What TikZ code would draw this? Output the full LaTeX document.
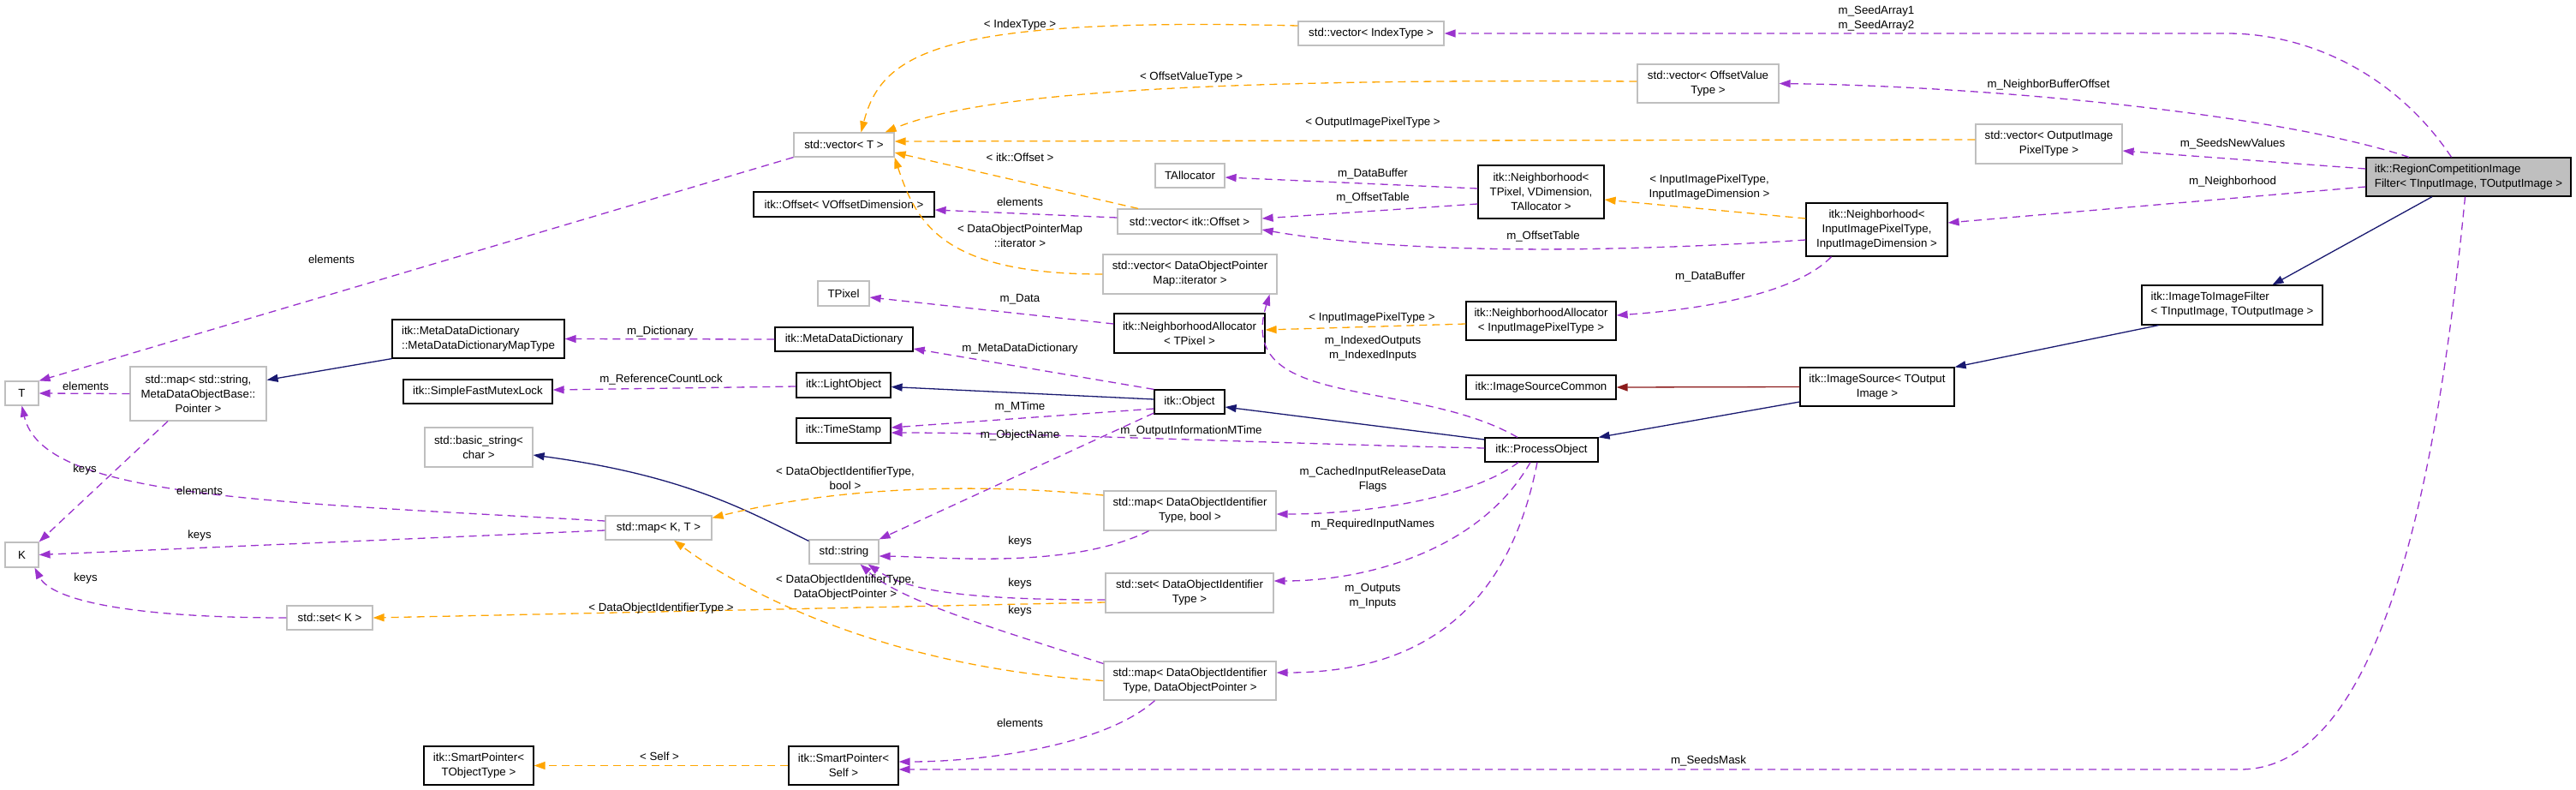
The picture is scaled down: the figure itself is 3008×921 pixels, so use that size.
\documentclass[tikz,border=0pt]{standalone}
\usepackage{fontspec}
\setmainfont{Liberation Sans}
\usetikzlibrary{arrows.meta}
\definecolor{pur}{HTML}{9A32CD}
\definecolor{org}{HTML}{FFA500}
\definecolor{nav}{HTML}{191970}
\definecolor{dred}{HTML}{8B1A1A}
\definecolor{gbd}{HTML}{BFBFBF}
\newcommand\bx[7]{\node[#6, minimum width={(#4-#2)*1pt}, minimum height={(#5-#3)*1pt}] (#1) at ({(#2+#4)/2},{(#3+#5)/2}) {#7};}
\begin{document}
\begin{tikzpicture}[x=1pt,y=-1pt,
  every node/.style={font=\fontsize{13.3}{17}\selectfont, inner sep=0pt},
  box/.style={rectangle, align=center, line width=1.2pt},
  g/.style={box, draw=gbd},
  b/.style={box, draw=black},
  lab/.style={align=center},
  tip/.style={-{Triangle[length=13pt,width=9pt]}},
  pur/.style={tip, draw=pur, fill=none, line width=1.3pt, dash pattern=on 9pt off 6pt, -{Triangle[length=13pt,width=9pt,fill=pur]}},
  org/.style={tip, draw=org, line width=1.3pt, dash pattern=on 9pt off 6pt, -{Triangle[length=13pt,width=9pt,fill=org]}},
  nav/.style={draw=nav, line width=1.3pt, -{Triangle[length=13pt,width=9pt,fill=nav]}},
  dred/.style={draw=dred, line width=1.3pt, -{Triangle[length=13pt,width=9pt,fill=dred]}}]
\useasboundingbox (0,0) rectangle (3008,921);
% nodes
\bx{T}{6}{445}{45}{473}{g}{T}
\bx{mapstr}{152}{428}{311}{491}{g}{std::map< std::string,\\ MetaDataObjectBase::\\ Pointer >}
\bx{mddmt}{458}{373}{659}{418}{b,align=left}{itk::MetaDataDictionary\\::MetaDataDictionaryMapType}
\bx{smfl}{471}{443}{645}{471}{b}{itk::SimpleFastMutexLock}
\bx{bstr}{496}{499}{622}{545}{g}{std::basic\_string<\\ char >}
\bx{K}{6}{633}{45}{662}{g}{K}
\bx{mapKT}{707}{602}{831}{630}{g}{std::map< K, T >}
\bx{setK}{335}{707}{435}{735}{g}{std::set< K >}
\bx{sptot}{495}{871}{623}{916}{b}{itk::SmartPointer<\\ TObjectType >}
\bx{vT}{927}{155}{1044}{183}{g}{std::vector< T >}
\bx{ofs}{880}{224}{1091}{253}{b}{itk::Offset< VOffsetDimension >}
\bx{tpix}{955}{328}{1015}{357}{g}{TPixel}
\bx{mdd}{905}{382}{1066}{410}{b}{itk::MetaDataDictionary}
\bx{lo}{930}{435}{1040}{464}{b}{itk::LightObject}
\bx{ts}{930}{488}{1040}{517}{b}{itk::TimeStamp}
\bx{str}{945}{630}{1026}{658}{g}{std::string}
\bx{talloc}{1349}{191}{1430}{219}{g}{TAllocator}
\bx{vof}{1305}{244}{1473}{273}{g}{std::vector< itk::Offset >}
\bx{vdop}{1288}{297}{1491}{343}{g}{std::vector< DataObjectPointer\\ Map::iterator >}
\bx{natp}{1301}{366}{1477}{412}{b}{itk::NeighborhoodAllocator\\ < TPixel >}
\bx{nbt}{1726}{193}{1873}{255}{b}{itk::Neighborhood<\\ TPixel, VDimension,\\ TAllocator >}
\bx{nain}{1712}{352}{1887}{397}{b}{itk::NeighborhoodAllocator\\ < InputImagePixelType >}
\bx{isc}{1712}{438}{1887}{466}{b}{itk::ImageSourceCommon}
\bx{vidx}{1516}{25}{1686}{53}{g}{std::vector< IndexType >}
\bx{voffv}{1912}{75}{2077}{120}{g}{std::vector< OffsetValue\\ Type >}
\bx{obj}{1348}{455}{1430}{483}{b}{itk::Object}
\bx{po}{1734}{511}{1866}{539}{b}{itk::ProcessObject}
\bx{mapdb}{1289}{573}{1490}{619}{g}{std::map< DataObjectIdentifier\\ Type, bool >}
\bx{setdo}{1291}{669}{1487}{715}{g}{std::set< DataObjectIdentifier\\ Type >}
\bx{mapdop}{1289}{772}{1490}{817}{g}{std::map< DataObjectIdentifier\\ Type, DataObjectPointer >}
\bx{spself}{921}{871}{1049}{916}{b}{itk::SmartPointer<\\ Self >}
\bx{voip}{2307}{145}{2478}{191}{g}{std::vector< OutputImage\\ PixelType >}
\bx{nbin}{2109}{237}{2274}{299}{b}{itk::Neighborhood<\\ InputImagePixelType,\\ InputImageDimension >}
\bx{reg}{2763}{184}{3002}{229}{b,fill=gbd,align=left}{itk::RegionCompetitionImage\\Filter< TInputImage, TOutputImage >}
\bx{itif}{2501}{333}{2712}{379}{b,align=left}{itk::ImageToImageFilter\\< TInputImage, TOutputImage >}
\bx{isrc}{2102}{429}{2282}{474}{b}{itk::ImageSource< TOutput\\ Image >}
% edges
\draw[pur] ([xshift=-20pt]reg.north) .. controls (2800,90) and (2700,39) .. (2600,39) -- (vidx.east);
\draw[pur] ([xshift=-69.5pt]reg.north) .. controls (2650,130) and (2300,100) .. (voffv.east);
\draw[pur] ([yshift=9.5pt]reg.west) -- ([yshift=-8pt]voip.east);
\draw[pur] ([yshift=-11.5pt]reg.west) -- ([yshift=8pt]nbin.east);
\draw[nav] ([xshift=-42.5pt]reg.south) -- ([xshift=47pt]itif.north);
\draw[pur] ([xshift=-4pt]reg.south) .. controls (2850,520) and (2790,898) .. (2616,898) -- ([yshift=-4.5pt]spself.east);
\draw[nav] ([xshift=-86pt]itif.south) -- (isrc.north east);
\draw[dred] (isrc.west) -- (isc.east);
\draw[nav] ([yshift=-17.5pt]isrc.west) -- (po.north east);
\draw[nav] ([yshift=12pt]po.west) -- ([yshift=-6pt]obj.east);
\draw[nav] ([yshift=3pt]obj.west) -- ([yshift=-2pt]lo.east);
\draw[pur] ([yshift=-1.5pt]lo.west) -- ([yshift=2pt]smfl.east);
\draw[pur] (obj.north west) -- ([yshift=-11pt]mdd.east);
\draw[pur] ([yshift=-8pt]obj.west) -- ([yshift=3.5pt]ts.east);
\draw[pur] ([yshift=2pt]po.west) .. controls (1500,518) and (1200,505) .. ([yshift=-2.5pt]ts.east);
\draw[pur] ([yshift=-13pt]obj.west) -- (str.north east);
\draw[pur] (mdd.west) -- (mddmt.east);
\draw[nav] (mddmt.south west) -- ([yshift=16pt]mapstr.east);
\draw[pur] (mapstr.west) -- (T.east);
\draw[pur] ([xshift=-35.5pt]mapstr.south) -- (K.north east);
\draw[pur] (vT.south west) -- (T.north east);
\draw[pur] ([yshift=8pt]mapKT.west) .. controls (300,585) and (50,580) .. (T.south);
\draw[pur] ([yshift=-3pt]mapKT.west) -- (K.east);
\draw[pur] (setK.west) .. controls (150,721) and (60,700) .. ([xshift=15pt]K.south);
\draw[nav] ([yshift=-2pt]str.north west) .. controls (870,595) and (800,555) .. ([yshift=-9pt]bstr.east);
\draw[org] ([yshift=18pt]mapdb.west) .. controls (1100,560) and (950,575) .. ([yshift=-3pt]mapKT.north east);
\draw[org] (mapdop.west) .. controls (1050,780) and (880,700) .. ([xshift=18pt]mapKT.south);
\draw[org] ([yshift=-11pt]setdo.west) -- (setK.east);
\draw[pur] ([xshift=-48pt]mapdb.south) .. controls (1250,665) and (1100,650) .. ([yshift=-5pt]str.east);
\draw[pur] ([yshift=-8pt]setdo.west) .. controls (1130,700) and (1060,690) .. ([xshift=-13pt]str.south east);
\draw[pur] ([yshift=20pt]mapdop.west) .. controls (1150,730) and (1050,700) .. ([xshift=-22pt]str.south east);
\draw[pur] ([xshift=-41pt]mapdop.south) .. controls (1290,870) and (1150,889) .. ([yshift=4.5pt]spself.east);
\draw[pur] ([xshift=-27pt]po.south) .. controls (1720,580) and (1600,600) .. ([yshift=-4pt]mapdb.east);
\draw[pur] ([xshift=-13pt]po.south) .. controls (1730,640) and (1600,678) .. ([yshift=14pt]setdo.east);
\draw[pur] ([xshift=-5pt]po.south) .. controls (1760,720) and (1650,785) .. ([yshift=9.5pt]mapdop.east);
\draw[pur] ([xshift=-28pt]po.north) .. controls (1650,440) and (1440,480) .. ([xshift=-9pt]vdop.south east);
\draw[org] (spself.west) -- (sptot.east);
\draw[org] ([yshift=9pt]vidx.west) .. controls (1100,20) and (1030,60) .. ([xshift=20pt]vT.north);
\draw[org] ([yshift=2.5pt]voffv.west) .. controls (1450,92) and (1150,105) .. ([xshift=-11pt]vT.north east);
\draw[org] ([yshift=5pt]voip.west) -- ([yshift=4pt]vT.east);
\draw[org] ([xshift=-60pt]vof.north) -- ([yshift=-9pt]vT.east);
\draw[org] (vdop.west) .. controls (1100,320) and (1070,260) .. (vT.south east);
\draw[pur] ([yshift=4.5pt]vof.west) -- ([yshift=-6.5pt]ofs.east);
\draw[pur] ([yshift=4pt]nbt.west) -- ([yshift=-2pt]talloc.east);
\draw[pur] ([yshift=-14pt]nbt.west) -- ([yshift=3.5pt]vof.east);
\draw[pur] ([yshift=-12pt]nbin.west) .. controls (1800,300) and (1600,290) .. ([yshift=-9.5pt]vof.east);
\draw[org] ([yshift=13pt]nbin.west) -- ([yshift=-9pt]nbt.east);
\draw[pur] ([xshift=-53pt]nbin.south) .. controls (2100,340) and (2000,360) .. ([yshift=6.5pt]nain.east);
\draw[org] ([yshift=-3.5pt]nain.west) -- ([yshift=4pt]natp.east);
\draw[pur] ([yshift=11pt]natp.west) -- ([yshift=-4.5pt]tpix.east);
% labels
\node[lab] (l1) at (2191,22) {m\_SeedArray1\\m\_SeedArray2};
\node[lab] (l2) at (2392,99) {m\_NeighborBufferOffset};
\node[lab] (l3) at (2607,168) {m\_SeedsNewValues};
\node[lab] (l4) at (2607,212) {m\_Neighborhood};
\node[lab] (l5) at (1995,888) {m\_SeedsMask};
\node[lab] (l12) at (772,443) {m\_ReferenceCountLock};
\node[lab] (l13) at (1191,407) {m\_MetaDataDictionary};
\node[lab] (l14) at (1191,475) {m\_MTime};
\node[lab] (l15) at (1391,503) {m\_OutputInformationMTime};
\node[lab] (l16) at (1191,508) {m\_ObjectName};
\node[lab] (l17) at (771,387) {m\_Dictionary};
\node[lab] (l19) at (100,451) {elements};
\node[lab] (l20) at (99,548) {keys};
\node[lab] (l21) at (387,303) {elements};
\node[lab] (l22) at (233,573) {elements};
\node[lab] (l23) at (233,625) {keys};
\node[lab] (l24) at (100,675) {keys};
\node[lab] (l26) at (987,558) {< DataObjectIdentifierType,\\bool >};
\node[lab] (l27) at (987,686) {< DataObjectIdentifierType,\\DataObjectPointer >};
\node[lab] (l28) at (772,710) {< DataObjectIdentifierType >};
\node[lab] (l29) at (1191,632) {keys};
\node[lab] (l30) at (1191,681) {keys};
\node[lab] (l31) at (1191,713) {keys};
\node[lab] (l32) at (1191,844) {elements};
\node[lab] (l33) at (1603,560) {m\_CachedInputReleaseData\\Flags};
\node[lab] (l34) at (1603,612) {m\_RequiredInputNames};
\node[lab] (l35) at (1603,696) {m\_Outputs\\m\_Inputs};
\node[lab] (l36) at (1603,407) {m\_IndexedOutputs\\m\_IndexedInputs};
\node[lab] (l37) at (770,883) {< Self >};
\node[lab] (l38) at (1191,29) {< IndexType >};
\node[lab] (l39) at (1391,90) {< OffsetValueType >};
\node[lab] (l40) at (1603,143) {< OutputImagePixelType >};
\node[lab] (l41) at (1191,184) {< itk::Offset >};
\node[lab] (l42) at (1191,275) {< DataObjectPointerMap\\::iterator >};
\node[lab] (l43) at (1191,236) {elements};
\node[lab] (l44) at (1603,203) {m\_DataBuffer};
\node[lab] (l45) at (1603,231) {m\_OffsetTable};
\node[lab] (l46) at (1802,276) {m\_OffsetTable};
\node[lab] (l47) at (1996,219) {< InputImagePixelType,\\InputImageDimension >};
\node[lab] (l48) at (1997,323) {m\_DataBuffer};
\node[lab] (l49) at (1602,371) {< InputImagePixelType >};
\node[lab] (l50) at (1191,349) {m\_Data};
\end{tikzpicture}
\end{document}
